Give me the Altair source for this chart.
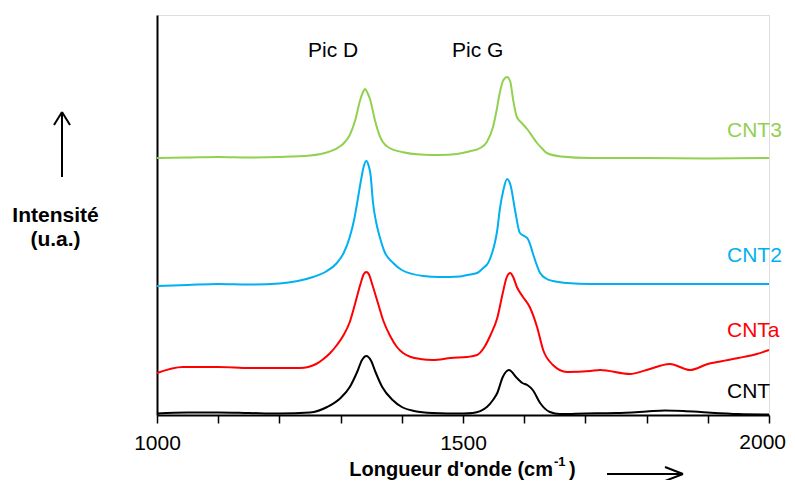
import altair as alt
import pandas as pd

# ---- data (x: cm-1, y: arbitrary intensity units, offset per curve) ----
series_names = ["CNT3", "CNT2", "CNTa", "CNT"]
series_colors = ["#92D050", "#00B0F0", "#FF0000", "#000000"]

wn_cnt3 = [1000, 1050, 1100, 1150, 1200, 1250, 1280, 1300, 1307, 1315, 1324, 1332, 1336, 1340, 1344, 1348,
           1356, 1364, 1369, 1380, 1400, 1430, 1462, 1490, 1510, 1528, 1539, 1549, 1555, 1560, 1566,
           1572, 1577, 1582, 1588, 1596, 1606, 1614, 1621, 1630, 1637, 1660, 1708, 1800, 1900, 2000]
int_cnt3 = [257, 257.5, 258, 257.5, 258, 259.5, 263, 269, 273, 280, 295, 315, 322, 326, 322, 316,
            295, 279, 273, 267, 263, 260.5, 260, 261, 263.5, 267, 273, 288, 305, 322, 335,
            338, 334, 315, 298, 292, 285, 278, 272, 266, 262, 258.5, 257, 257, 256.5, 257]

wn_cnt2 = [1000, 1050, 1100, 1150, 1200, 1230, 1255, 1275, 1294, 1305, 1315, 1322, 1327, 1334, 1338, 1342,
           1346, 1349, 1353, 1358, 1364, 1372, 1386, 1400, 1435, 1462, 1495, 1507, 1523, 1533, 1541, 1549,
           1552, 1556, 1560, 1566, 1572, 1578, 1585, 1593, 1600, 1606, 1610, 1614, 1626, 1637, 1647, 1670,
           1708, 1800, 1900, 2000]
int_cnt2 = [129, 130, 131, 130.5, 131.5, 134, 138, 143, 152, 162, 178, 195, 212, 237, 249, 254,
            249, 240, 212, 193, 178, 163, 152, 145, 139, 138, 138.5, 140, 142, 147, 152, 165,
            172, 185, 205, 225, 236, 229, 205, 182, 179, 176, 170, 162, 142, 136, 134, 132,
            131, 131, 131, 131]

wn_cnta = [1000, 1042, 1100, 1152, 1200, 1234, 1260, 1272, 1283, 1294, 1304, 1315, 1324, 1332, 1338, 1342,
           1346, 1352, 1361, 1370, 1381, 1392, 1402, 1415, 1430, 1451, 1480, 1507, 1523, 1535, 1545, 1556,
           1565, 1571, 1577, 1582, 1588, 1598, 1609, 1621, 1631, 1647, 1670, 1708, 1724, 1773, 1800, 1838,
           1871, 1900, 1915, 1950, 1980, 2000]
int_cnta = [42, 48, 48, 47, 47, 47, 51, 56, 62, 70, 79, 93, 112, 130, 141, 143,
            141, 130, 112, 94, 79, 68, 62, 58, 56, 55, 57, 58, 60, 68, 80, 97,
            122, 137, 142, 138, 128, 118, 108, 88, 65, 50, 43, 44, 45, 41, 45, 51,
            45, 51, 53, 57, 61, 65]

wn_cnt = [1000, 1050, 1100, 1150, 1200, 1250, 1278, 1300, 1315, 1327, 1335, 1342, 1350, 1357, 1368, 1385,
          1400, 1420, 1450, 1500, 1516, 1539, 1549, 1556, 1565, 1575, 1588, 1597, 1605, 1614, 1626, 1642,
          1658, 1700, 1750, 1800, 1830, 1860, 1900, 1950, 2000]
int_cnt = [1.5, 2.5, 2.5, 2, 1.5, 2.5, 8, 17, 28, 43, 55, 59, 54, 43, 28, 15,
           8, 4, 2, 1.5, 2, 8, 15, 22, 38, 45, 37, 32, 30, 25, 12, 3,
           1, 1.5, 2, 3.5, 4.5, 4, 2.5, 1, 0.5]

x_ticks = [1000, 1100, 1200, 1300, 1400, 1500, 1600, 1700, 1800, 1900, 2000]

rows = []
for name, wn, it in [("CNT3", wn_cnt3, int_cnt3), ("CNT2", wn_cnt2, int_cnt2),
                     ("CNTa", wn_cnta, int_cnta), ("CNT", wn_cnt, int_cnt)]:
    for w, v in zip(wn, it):
        rows.append({"series": name, "wn": w, "i": v})
df = pd.DataFrame(rows)

FONT = "Liberation Sans"
FS = 21

lines = alt.Chart(df).mark_line(strokeWidth=2, interpolate="monotone").encode(
    x=alt.X("wn:Q", scale=alt.Scale(domain=[1000, 2000], nice=False, zero=False),
            axis=alt.Axis(values=x_ticks, format="d",
                          labelExpr="(datum.value == 1000 || datum.value == 1500) ? datum.label : ''",
                          title=None, grid=False, domainColor="#000000", domainWidth=2,
                          tickColor="#000000", tickWidth=1.5, tickSize=8,
                          labelFontSize=FS, labelFont=FONT, labelColor="#000000",
                          labelBaseline="alphabetic", labelPadding=26, labelFlush=False)),
    y=alt.Y("i:Q", scale=alt.Scale(domain=[0, 400], nice=False),
            axis=alt.Axis(ticks=False, labels=False, title=None, grid=False,
                          domainColor="#000000", domainWidth=2)),
    color=alt.Color("series:N", scale=alt.Scale(domain=series_names, range=series_colors), legend=None),
    order="wn:Q",
)

one = pd.DataFrame({"k": [0]})


def txt(s, x, y, color="#000000", bold=False, align="left", size=FS):
    return alt.Chart(one).mark_text(
        text=s, align=align, baseline="alphabetic", font=FONT, fontSize=size,
        fontWeight="bold" if bold else "normal", color=color,
    ).encode(x=alt.value(x), y=alt.value(y))


def seg(x1, y1, x2, y2, w=2):
    return alt.Chart(one).mark_rule(color="#000000", strokeWidth=w).encode(
        x=alt.value(x1), y=alt.value(y1), x2=alt.value(x2), y2=alt.value(y2))


layers = [lines,
          txt("2000", 629, 434, align="right"),
          txt("Pic D", 151, 42), txt("Pic G", 295, 42),
          txt("CNT3", 570, 122, series_colors[0]),
          txt("CNT2", 570, 247, series_colors[1]),
          txt("CNTa", 570, 322, series_colors[2]),
          txt("CNT", 570, 383, series_colors[3]),
          txt("Intensité", -101.5, 207, bold=True, align="center"),
          txt("(u.a.)", -101.5, 231, bold=True, align="center"),
          txt("Longueur d'onde (cm", 396, 461, bold=True, align="right", size=20),
          txt("-1", 397, 451, bold=True, size=13),
          txt(")", 412, 461, bold=True, size=20),
          # up arrow
          seg(-95, 162, -95, 97), seg(-95, 97, -103, 110), seg(-95, 97, -87, 110),
          # right arrow
          seg(450, 459, 526, 459), seg(526, 459, 508, 452), seg(526, 459, 508, 466),
          ]

chart = alt.layer(*layers).properties(
    width=612, height=400,
    autosize=alt.AutoSizeParams(type="none"),
    padding={"left": 149, "top": 7, "right": 18, "bottom": 65},
).configure_view(stroke=None).configure(background="#ffffff")

chart.save("out.html", embed_options={"renderer": "svg", "actions": False})
